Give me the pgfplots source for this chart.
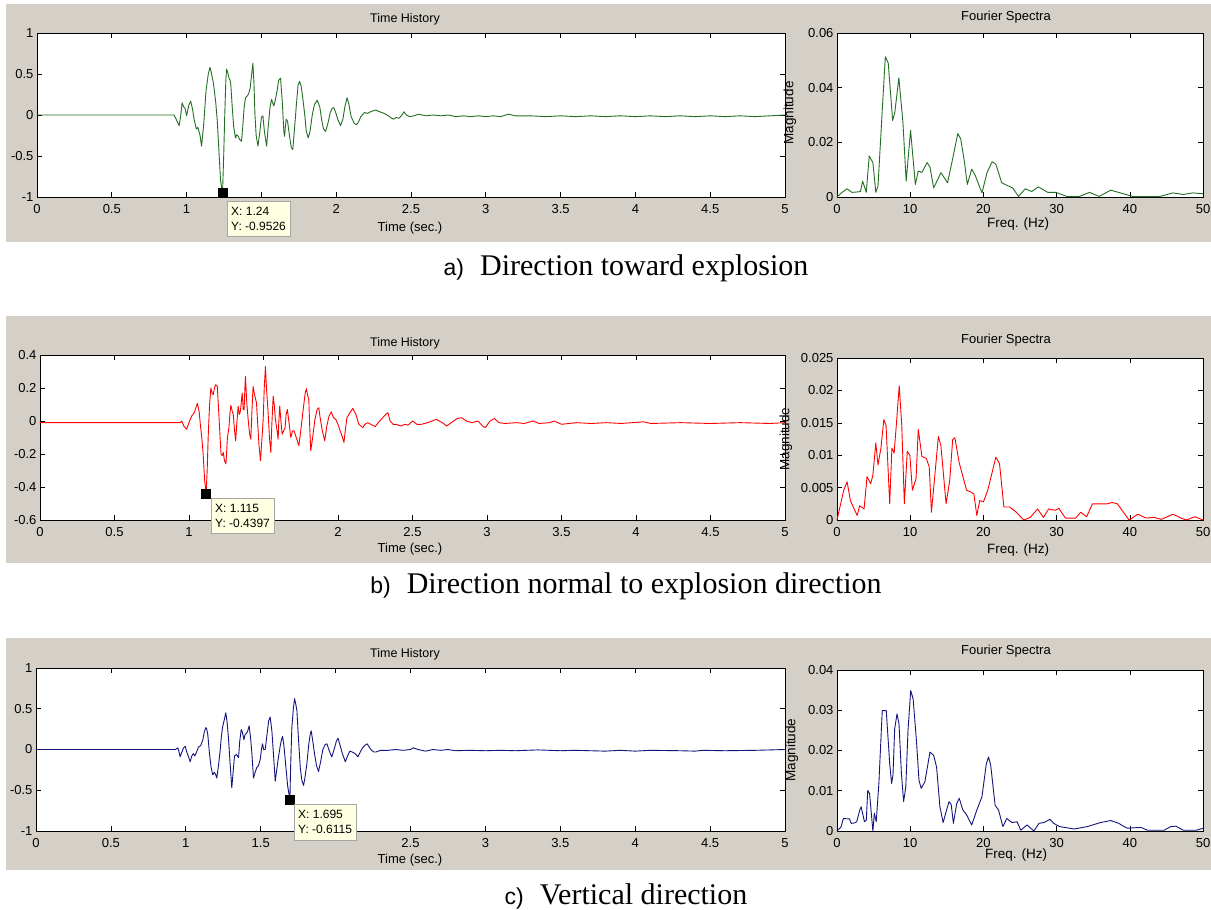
\documentclass[border=0pt]{standalone}
\usepackage{fontspec}
\setmainfont{Liberation Sans}
\newfontfamily\capserif{Liberation Serif}
\usepackage{pgfplots}
\pgfplotsset{compat=1.18}
\definecolor{panelgray}{RGB}{212,208,200}
\definecolor{mgreen}{RGB}{35,110,35}
\definecolor{mred}{RGB}{255,0,0}
\definecolor{mblue}{RGB}{20,20,125}
\definecolor{tipfill}{RGB}{255,255,225}
\pgfplotsset{
  matax/.style={scale only axis, anchor=south west,
    axis background/.style={fill=white},
    tick align=inside, major tick length=5pt,
    every tick/.style={black,line width=0.6pt},
    axis line style={black,line width=0.8pt},
    tick label style={font=\fontsize{13}{15}\selectfont},
    xticklabel style={yshift=-4pt},
    clip=false, scaled ticks=false},
  thist/.style={matax, xmin=0, xmax=5,
    xtick={0,0.5,1,1.5,2,2.5,3,3.5,4,4.5,5}},
  fspec/.style={matax, xmin=0, xmax=50,
    xtick={0,10,20,30,40,50}, xticklabels={0,10,20,30,40,50}},
  sig/.style={line width=0.9pt, line join=round},
  tip/.style={only marks, mark=square*, mark size=4.5pt, mark options={fill=black,draw=black}}
}
\newcommand{\lab}[1]{\fontsize{#1}{#1}\selectfont}
\begin{document}
\begin{tikzpicture}
\path[use as bounding box, fill=white] (0,0) rectangle (1211pt,-910pt);
\fill[panelgray] (6pt,-4pt) rectangle (1211pt,-242pt);
\fill[panelgray] (6pt,-316pt) rectangle (1211pt,-563pt);
\fill[panelgray] (6pt,-638pt) rectangle (1211pt,-870pt);

% ---------------- Row a ----------------
\begin{axis}[thist, at={(37pt,-197pt)}, width=748pt, height=164pt,
  xticklabels={0,0.5,1,,2,2.5,3,3.5,4,4.5,5},
  ymin=-1, ymax=1, ytick={-1,-0.5,0,0.5,1}, yticklabels={-1,-0.5,0,0.5,1}]
\addplot[sig, mgreen] coordinates {
(0,0) (0.90,0) (0.915,0) (0.93,-0.05) (0.95,-0.13) (0.96,-0.02) (0.97,0.15) (0.98,0.10) (0.99,0.08) (1.0,-0.01) (1.015,0.12) (1.027,0.17) (1.04,0.07) (1.05,-0.05) (1.065,-0.17) (1.075,-0.15) (1.09,-0.25) (1.10,-0.38) (1.115,-0.1) (1.13,0.3) (1.145,0.5) (1.156,0.58) (1.165,0.52) (1.18,0.38) (1.195,0.15) (1.205,-0.07) (1.215,-0.4) (1.227,-0.8) (1.24,-0.9526) (1.248,-0.5) (1.255,0.0) (1.262,0.4) (1.267,0.56) (1.275,0.52) (1.285,0.44) (1.29,0.43) (1.295,0.38) (1.305,0.1) (1.315,-0.15) (1.327,-0.28) (1.335,-0.24) (1.345,-0.26) (1.355,-0.3) (1.367,-0.32) (1.375,-0.15) (1.385,0.1) (1.394,0.21) (1.405,0.23) (1.415,0.26) (1.425,0.33) (1.435,0.5) (1.443,0.63) (1.45,0.4) (1.457,0.0) (1.465,-0.25) (1.477,-0.38) (1.49,-0.2) (1.50,-0.03) (1.51,-0.01) (1.52,-0.2) (1.535,-0.38) (1.545,-0.15) (1.558,0.1) (1.568,0.19) (1.575,0.15) (1.583,0.11) (1.593,0.18) (1.605,0.3) (1.615,0.42) (1.628,0.45) (1.64,0.15) (1.65,-0.2) (1.655,-0.26) (1.66,-0.15) (1.666,-0.05) (1.675,-0.08) (1.69,-0.28) (1.70,-0.4) (1.71,-0.42) (1.72,-0.2) (1.735,0.15) (1.745,0.36) (1.755,0.41) (1.765,0.36) (1.775,0.23) (1.79,0.0) (1.80,-0.2) (1.813,-0.28) (1.825,-0.2) (1.84,0.0) (1.855,0.13) (1.873,0.18) (1.89,0.1) (1.905,-0.08) (1.915,-0.17) (1.929,-0.2) (1.945,-0.1) (1.96,0.03) (1.972,0.08) (1.984,0.09) (1.995,0.04) (2.01,-0.05) (2.029,-0.13) (2.045,-0.05) (2.058,0.1) (2.073,0.21) (2.085,0.13) (2.1,-0.02) (2.12,-0.1) (2.136,-0.12) (2.15,-0.08) (2.165,-0.02) (2.189,0.03) (2.21,0.02) (2.23,0.04) (2.263,0.06) (2.29,0.04) (2.32,0.02) (2.35,-0.01) (2.37,-0.04) (2.385,-0.05) (2.40,-0.03) (2.42,-0.04) (2.44,0.0) (2.452,0.04) (2.47,0.0) (2.49,-0.02) (2.52,-0.01) (2.55,0.01) (2.6,-0.01) (2.65,0.0) (2.7,-0.01) (2.75,0.0) (2.8,-0.02) (2.85,-0.01) (2.9,-0.02) (2.95,-0.01) (3.0,-0.02) (3.05,-0.01) (3.1,-0.02) (3.15,0.01) (3.2,-0.01) (3.3,-0.01) (3.4,-0.02) (3.5,-0.01) (3.6,-0.02) (3.7,-0.01) (3.8,-0.02) (3.9,-0.01) (4.0,-0.02) (4.1,-0.01) (4.2,-0.02) (4.3,-0.01) (4.4,-0.02) (4.5,-0.01) (4.6,-0.02) (4.7,-0.01) (4.8,-0.02) (4.9,-0.01) (5.0,0)};
\addplot[tip] coordinates {(1.24,-0.9526)};
\end{axis}
\begin{axis}[fspec, at={(837pt,-197pt)}, width=366pt, height=164pt,
  ymin=0, ymax=0.06, ytick={0,0.02,0.04,0.06}, yticklabels={0,0.02,0.04,0.06}]
\addplot[sig, mgreen] coordinates {
(0,0) (0.6,0.0015) (1.37,0.003) (2.05,0.0017) (2.6,0.0018) (3.2,0.002) (3.5,0.0058) (4.0,0.0017) (4.4,0.015) (4.9,0.0126) (5.3,0.0017) (5.6,0.004) (6.2,0.0325) (6.6,0.0513) (7.0,0.049) (7.6,0.028) (7.9,0.031) (8.45,0.0436) (9.0,0.0275) (9.45,0.0058) (10.05,0.0244) (10.7,0.0046) (11.1,0.0095) (11.6,0.009) (12.3,0.0126) (12.7,0.011) (13.2,0.0033) (14.2,0.0089) (15.1,0.0052) (15.8,0.014) (16.5,0.0232) (16.9,0.0213) (17.4,0.013) (17.8,0.0046) (18.4,0.0102) (18.9,0.0078) (19.8,0.0015) (20.5,0.009) (21.2,0.0129) (21.7,0.012) (22.5,0.0052) (24.0,0.0033) (24.8,0.0002) (25.7,0.003) (26.6,0.002) (27.5,0.0037) (28.8,0.0017) (29.9,0.0017) (31.4,0.0002) (33.1,0.0002) (34.5,0.0017) (35.8,0.0002) (37.4,0.0025) (39.5,0.0009) (40.4,0.0002) (42.2,0.0002) (44.1,0.0002) (45.9,0.0015) (47.3,0.0009) (48.6,0.0015) (50,0.0012)};
\end{axis}

% ---------------- Row b ----------------
\begin{axis}[thist, at={(40pt,-520pt)}, width=745pt, height=165pt,
  xticklabels={0,0.5,1,,2,2.5,3,3.5,4,4.5,5},
  ymin=-0.6, ymax=0.4, ytick={-0.6,-0.4,-0.2,0,0.2,0.4}, yticklabels={-0.6,-0.4,-0.2,0,0.2,0.4}]
\addplot[sig, mred] coordinates {
(0,-0.01) (0.94,-0.01) (0.951,0.0) (0.965,-0.03) (0.984,-0.05) (1.0,-0.01) (1.018,0.03) (1.035,0.05) (1.05,0.09) (1.056,0.107) (1.063,0.08) (1.069,0.05) (1.077,-0.03) (1.085,-0.09) (1.095,-0.2) (1.105,-0.36) (1.115,-0.4397) (1.122,-0.3) (1.129,-0.09) (1.138,0.1) (1.147,0.2) (1.155,0.17) (1.163,0.16) (1.171,0.2) (1.179,0.22) (1.19,0.21) (1.198,0.08) (1.208,-0.09) (1.215,-0.2) (1.223,-0.21) (1.23,-0.19) (1.238,-0.24) (1.248,-0.26) (1.258,-0.1) (1.268,-0.04) (1.275,0.05) (1.281,0.095) (1.29,0.06) (1.297,0.04) (1.305,-0.05) (1.313,-0.12) (1.322,0.0) (1.33,0.09) (1.338,0.04) (1.345,0.06) (1.357,0.17) (1.364,0.07) (1.37,0.07) (1.375,0.2) (1.379,0.27) (1.387,0.12) (1.397,0.01) (1.407,-0.08) (1.415,-0.11) (1.422,0.05) (1.43,0.21) (1.44,0.16) (1.453,0.11) (1.46,0.0) (1.47,-0.15) (1.48,-0.24) (1.49,-0.1) (1.498,0.01) (1.505,0.2) (1.513,0.33) (1.52,0.2) (1.531,0.05) (1.54,-0.1) (1.549,-0.19) (1.556,-0.02) (1.565,0.15) (1.572,0.1) (1.58,0.01) (1.59,-0.05) (1.598,-0.11) (1.603,0.0) (1.609,0.09) (1.617,0.0) (1.625,-0.08) (1.635,-0.06) (1.645,-0.04) (1.652,0.04) (1.66,0.07) (1.67,0.0) (1.683,-0.1) (1.695,-0.06) (1.705,-0.06) (1.72,-0.1) (1.737,-0.15) (1.75,-0.06) (1.765,0.06) (1.78,0.17) (1.788,0.196) (1.795,0.16) (1.804,0.13) (1.81,-0.03) (1.817,-0.18) (1.83,-0.1) (1.845,0.01) (1.86,0.07) (1.871,0.08) (1.88,0.02) (1.895,-0.06) (1.911,-0.12) (1.925,-0.03) (1.94,0.03) (1.955,0.055) (1.97,0.02) (1.985,0.01) (2.0,-0.02) (2.015,-0.06) (2.03,-0.1) (2.04,-0.13) (2.05,-0.05) (2.06,0.02) (2.08,0.05) (2.1,0.077) (2.12,0.04) (2.14,-0.02) (2.167,-0.04) (2.18,-0.02) (2.2,-0.01) (2.22,-0.02) (2.25,-0.034) (2.27,-0.01) (2.3,0.02) (2.32,0.04) (2.335,0.05) (2.35,0.0) (2.37,-0.02) (2.39,-0.02) (2.42,-0.03) (2.45,-0.02) (2.47,-0.025) (2.5,0.0) (2.53,-0.02) (2.56,-0.02) (2.6,-0.01) (2.63,0.0) (2.66,0.01) (2.7,-0.01) (2.73,-0.03) (2.76,-0.01) (2.8,0.015) (2.83,0.02) (2.86,0.0) (2.9,-0.01) (2.94,0.0) (2.97,-0.03) (2.99,-0.04) (3.02,0.0) (3.05,0.015) (3.08,-0.01) (3.12,-0.015) (3.2,-0.01) (3.25,-0.015) (3.31,0.0) (3.35,-0.015) (3.42,-0.01) (3.45,0.0) (3.5,-0.02) (3.6,-0.01) (3.7,-0.015) (3.8,-0.01) (3.9,-0.015) (4.05,-0.005) (4.1,-0.015) (4.3,-0.01) (4.5,-0.015) (4.7,-0.01) (4.9,-0.015) (5,-0.01)};
\addplot[tip] coordinates {(1.115,-0.4397)};
\end{axis}
\begin{axis}[fspec, at={(837pt,-520pt)}, width=366pt, height=162pt,
  ymin=0, ymax=0.025, ytick={0,0.005,0.01,0.015,0.02,0.025}, yticklabels={0,0.005,0.01,0.015,0.02,0.025}]
\addplot[sig, mred] coordinates {
(0,0) (0.92,0.0046) (1.38,0.0059) (1.83,0.003) (2.75,0.0007) (3.1,0.0022) (3.7,0.0017) (4.1,0.0067) (4.6,0.0056) (4.9,0.0069) (5.3,0.0119) (5.6,0.0085) (6.0,0.0111) (6.4,0.0155) (6.7,0.0146) (7.2,0.0025) (7.5,0.0111) (7.8,0.0103) (8.1,0.0146) (8.5,0.0207) (8.85,0.0145) (9.2,0.0025) (9.6,0.0106) (9.95,0.01) (10.3,0.0046) (10.8,0.0064) (11.1,0.014) (11.6,0.0098) (12.2,0.0095) (12.6,0.0082) (12.9,0.0012) (13.3,0.0061) (13.85,0.0129) (14.2,0.0114) (14.9,0.0025) (15.4,0.0061) (15.8,0.0124) (16.1,0.0127) (16.7,0.0088) (17.7,0.0046) (18.3,0.0043) (18.7,0.004) (19.1,0.0007) (19.5,0.003) (20.0,0.0028) (20.6,0.0046) (21.7,0.0097) (22.2,0.0087) (22.8,0.002) (23.6,0.002) (24.5,0.0012) (25.5,0) (26.4,0.0004) (27.4,0.0017) (28.2,0.0004) (28.9,0.0017) (29.8,0.0015) (30.3,0.0018) (31.2,0.0003) (32.6,0.0003) (33.3,0.0012) (34.1,0.0005) (34.9,0.0025) (36.9,0.0025) (37.6,0.0027) (38.3,0.0025) (39.9,0) (41.1,0.0009) (42.2,0.0003) (43.3,0.0004) (44.3,0.0001) (45.9,0.0009) (47.0,0.0003) (47.7,0) (48.9,0.0005) (50,0)};
\end{axis}

% ---------------- Row c ----------------
\begin{axis}[thist, at={(36pt,-831pt)}, width=749pt, height=163pt,
  xticklabels={0,0.5,1,1.5,,2.5,3,3.5,4,4.5,5},
  ymin=-1, ymax=1, ytick={-1,-0.5,0,0.5,1}, yticklabels={-1,-0.5,0,0.5,1}]
\addplot[sig, mblue] coordinates {
(0,0) (0.93,0) (0.947,0.02) (0.955,-0.03) (0.962,-0.09) (0.97,-0.05) (0.985,0.02) (0.996,0.04) (1.008,-0.04) (1.02,-0.1) (1.029,-0.15) (1.04,-0.08) (1.05,-0.05) (1.06,-0.08) (1.072,-0.03) (1.085,0.03) (1.1,0.05) (1.114,0.12) (1.124,0.22) (1.134,0.27) (1.14,0.25) (1.147,0.18) (1.158,-0.05) (1.169,-0.22) (1.18,-0.31) (1.19,-0.28) (1.198,-0.3) (1.207,-0.35) (1.218,-0.2) (1.229,-0.02) (1.237,0.15) (1.245,0.27) (1.255,0.35) (1.267,0.45) (1.275,0.35) (1.285,0.14) (1.295,-0.15) (1.307,-0.47) (1.315,-0.3) (1.325,-0.08) (1.338,-0.06) (1.352,-0.1) (1.36,0.1) (1.37,0.245) (1.378,0.21) (1.388,0.12) (1.395,0.18) (1.405,0.2) (1.412,0.22) (1.423,0.29) (1.432,0.15) (1.44,-0.02) (1.452,-0.35) (1.463,-0.28) (1.474,-0.22) (1.485,-0.2) (1.497,-0.12) (1.505,0.0) (1.512,0.07) (1.52,0.0) (1.53,0.0) (1.54,0.15) (1.553,0.35) (1.563,0.4) (1.57,0.3) (1.575,0.22) (1.585,-0.05) (1.597,-0.39) (1.607,-0.25) (1.615,-0.14) (1.63,0.04) (1.64,0.13) (1.646,0.16) (1.655,0.05) (1.665,-0.15) (1.68,-0.45) (1.695,-0.6115) (1.70,-0.2) (1.708,0.27) (1.718,0.5) (1.726,0.625) (1.735,0.55) (1.742,0.47) (1.75,0.2) (1.764,-0.22) (1.775,-0.38) (1.786,-0.44) (1.795,-0.35) (1.808,-0.18) (1.82,0.05) (1.83,0.18) (1.837,0.23) (1.848,0.1) (1.86,-0.06) (1.873,-0.2) (1.886,-0.27) (1.9,-0.15) (1.915,0.0) (1.93,0.06) (1.942,0.07) (1.955,0.0) (1.965,-0.05) (1.975,-0.09) (1.99,0.0) (2.005,0.1) (2.016,0.14) (2.03,0.05) (2.045,-0.05) (2.065,-0.15) (2.08,-0.08) (2.095,-0.02) (2.11,-0.03) (2.13,-0.05) (2.149,-0.09) (2.165,-0.03) (2.18,0.02) (2.195,0.05) (2.21,0.07) (2.225,0.03) (2.24,-0.01) (2.255,-0.03) (2.27,-0.03) (2.3,-0.01) (2.35,-0.01) (2.4,0.0) (2.45,-0.01) (2.5,0.0) (2.52,0.02) (2.55,0.0) (2.6,-0.02) (2.65,0.0) (2.7,-0.01) (2.75,0.0) (2.8,-0.015) (2.9,-0.01) (3.0,-0.015) (3.1,-0.01) (3.2,-0.015) (3.35,-0.005) (3.5,-0.015) (3.6,-0.01) (3.8,-0.02) (3.9,-0.01) (4.0,-0.02) (4.1,-0.01) (4.3,-0.015) (4.4,-0.02) (4.45,-0.01) (4.6,-0.015) (4.8,-0.01) (5,0)};
\addplot[tip] coordinates {(1.695,-0.6115)};
\end{axis}
\begin{axis}[fspec, at={(837pt,-831pt)}, width=366pt, height=161pt,
  ymin=0, ymax=0.04, ytick={0,0.01,0.02,0.03,0.04}, yticklabels={0,0.01,0.02,0.03,0.04}]
\addplot[sig, mblue] coordinates {
(0,0) (0.55,0.001) (0.87,0.0031) (1.7,0.003) (1.95,0.0019) (2.4,0.002) (2.7,0.0023) (3.1,0.0052) (3.3,0.006) (3.75,0.0023) (4.0,0.0027) (4.2,0.0101) (4.45,0.0093) (4.9,0) (5.1,0.0044) (5.36,0.0023) (5.72,0.0118) (6.18,0.0299) (6.73,0.0299) (7.2,0.0167) (7.46,0.0118) (7.65,0.014) (7.88,0.0254) (8.2,0.0291) (8.47,0.0266) (8.8,0.0143) (9.1,0.0073) (9.4,0.011) (9.7,0.025) (10.07,0.0349) (10.4,0.0328) (10.85,0.0225) (11.2,0.0126) (11.5,0.0106) (12.0,0.0122) (12.7,0.0196) (13.2,0.0188) (13.6,0.0159) (14.06,0.006) (14.5,0.0021) (14.97,0.0052) (15.3,0.0073) (15.6,0.0066) (15.9,0.0019) (16.35,0.0068) (16.7,0.0081) (17.2,0.0052) (17.7,0.004) (18.4,0.0015) (19.1,0.0052) (19.8,0.0085) (20.4,0.0167) (20.7,0.0184) (21.0,0.0163) (21.6,0.0064) (22.07,0.0052) (22.66,0.0011) (23.2,0.0031) (23.9,0.0021) (24.6,0.0023) (25.1,0.0002) (25.96,0.0015) (26.9,0) (27.6,0.0019) (28.25,0.0021) (29.1,0.0029) (29.6,0.0019) (30.4,0.0011) (32.4,0.0005) (34.2,0.0011) (36.0,0.0021) (37.4,0.0026) (38.5,0.0019) (39.2,0.0011) (39.7,0.0007) (41.5,0.0009) (42.4,0.0002) (44.7,0.0002) (45.6,0.0011) (46.3,0.0012) (47.3,0.0002) (49.1,0.0002) (50,0.0007)};
\end{axis}

% ---------------- texts ----------------
\begin{scope}[every node/.style={inner sep=0pt}]
\foreach \y in {19,343,654} \node[font=\lab{12.5}] at (405pt,-\y pt) {Time History};
\foreach \y in {17,340,651} \node[font=\lab{13}] at (1006pt,-\y pt) {Fourier Spectra};
\node[font=\lab{13}] at (410pt,-228pt) {Time (sec.)};
\node[font=\lab{13}] at (410pt,-549pt) {Time (sec.)};
\node[font=\lab{13}] at (410pt,-860pt) {Time (sec.)};
\node[font=\lab{13.5}] at (1018pt,-224pt) {Freq. (Hz)};
\node[font=\lab{13.5}] at (1018pt,-550pt) {Freq. (Hz)};
\node[font=\lab{13.5}] at (1016pt,-855pt) {Freq. (Hz)};
\node[font=\lab{13.5}, rotate=90] at (790pt,-113pt) {Magnitude};
\node[font=\lab{13.5}, rotate=90] at (786pt,-439pt) {Magnitude};
\node[font=\lab{13.5}, rotate=90] at (792pt,-750pt) {Magnitude};
\end{scope}
% data tips
\node[draw=black!35, fill=tipfill, anchor=north west, inner xsep=4pt, inner ysep=6pt, align=left, font=\lab{12}] at (227pt,-201pt) {X: 1.24\\[3pt]Y: -0.9526};
\node[draw=black!35, fill=tipfill, anchor=north west, inner xsep=4pt, inner ysep=6pt, align=left, font=\lab{12}] at (211pt,-498pt) {X: 1.115\\[3pt]Y: -0.4397};
\node[draw=black!35, fill=tipfill, anchor=north west, inner xsep=4pt, inner ysep=6pt, align=left, font=\lab{12}] at (294pt,-804pt) {X: 1.695\\[3pt]Y: -0.6115};
% captions
\node[anchor=base, inner sep=0pt] at (626pt,-275pt) {{\lab{23}a)}\hspace{16pt}{\capserif\lab{30}Direction toward explosion}};
\node[anchor=base, inner sep=0pt] at (626pt,-593pt) {{\lab{23}b)}\hspace{16pt}{\capserif\lab{30}Direction normal to explosion direction}};
\node[anchor=base, inner sep=0pt] at (626pt,-904pt) {{\lab{23}c)}\hspace{16pt}{\capserif\lab{30}Vertical direction}};
\end{tikzpicture}
\end{document}
